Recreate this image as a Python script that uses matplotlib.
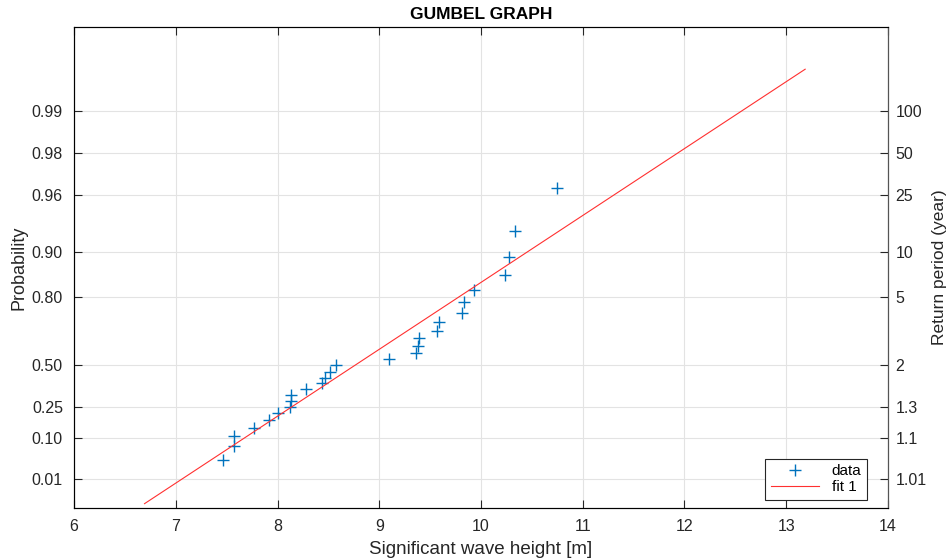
import numpy as np
import matplotlib.pyplot as plt

plt.rcParams['font.family'] = ['Liberation Sans', 'DejaVu Sans']

# annual maxima of significant wave height [m] with their plotting probabilities
wave_height = [7.46, 7.57, 7.57, 7.77, 7.92, 8.00, 8.12, 8.13, 8.13, 8.28,
               8.44, 8.47, 8.52, 8.57, 9.10, 9.36, 9.38, 9.39, 9.57, 9.59,
               9.81, 9.83, 9.93, 10.24, 10.28, 10.33, 10.75]
probability = [0.0357, 0.0714, 0.1071, 0.1429, 0.1786, 0.2143, 0.2500, 0.2857,
               0.3214, 0.3571, 0.3929, 0.4286, 0.4643, 0.5000, 0.5357, 0.5714,
               0.6071, 0.6429, 0.6786, 0.7143, 0.7500, 0.7857, 0.8214, 0.8571,
               0.8929, 0.9286, 0.9643]

# fitted Gumbel line (location, scale) and the height range it is drawn over
fit_loc = 8.429
fit_scale = 0.898
fit_range = [6.693, 13.186]

prob_ticks = [0.01, 0.10, 0.25, 0.50, 0.80, 0.90, 0.96, 0.98, 0.99]
prob_labels = ['0.01', '0.10', '0.25', '0.50', '0.80', '0.90', '0.96', '0.98', '0.99']
period_labels = ['1.01', '1.1', '1.3', '2', '5', '10', '25', '50', '100']


def to_reduced(p):
    with np.errstate(divide='ignore', invalid='ignore'):
        return -np.log(-np.log(p))


def from_reduced(y):
    return np.exp(-np.exp(-y))


fit_x = np.array(fit_range)
fit_p = from_reduced((fit_x - fit_loc) / fit_scale)

fig = plt.figure(figsize=(9.49, 5.59), dpi=100)
ax = fig.add_axes([0.078, 0.0918, 0.8577, 0.8599])

ax.set_yscale('function', functions=(to_reduced, from_reduced))
ax.grid(True, color='#e3e3e3', linewidth=0.8)
ax.set_axisbelow(True)

ax.plot(wave_height, probability, '+', color='#0072BD', markersize=8,
        markeredgewidth=1.0, label='data')
ax.plot(fit_x, fit_p, '-', color='#ff3030', linewidth=0.8, label='fit 1')

ylim = (from_reduced(-2.0), from_reduced(6.0))
ax.set_xlim(6, 14)
ax.set_ylim(*ylim)
ax.set_xticks(range(6, 15))
ax.set_yticks(prob_ticks)
ax.set_yticklabels(prob_labels)
ax.yaxis.set_minor_locator(plt.NullLocator())

ax.tick_params(axis='both', direction='in', length=5.5, width=0.8,
               labelsize=11.5, colors='#262626', labelcolor='#262626')
ax.tick_params(axis='x', top=True, pad=8)
ax.tick_params(axis='y', right=False, pad=8)
for s in ax.spines.values():
    s.set_color('#262626')
    s.set_linewidth(0.8)

ax.set_xlabel('Significant wave height [m]', fontsize=13.5, color='#262626',
              labelpad=5)
ax.set_ylabel('Probability', fontsize=13, color='#262626', labelpad=3)
ax.set_title('GUMBEL GRAPH', fontsize=12.5, fontweight='bold', pad=6)

# return period axis on the right
ax2 = ax.twinx()
ax2.set_yscale('function', functions=(to_reduced, from_reduced))
ax2.set_ylim(*ylim)
ax2.set_yticks(prob_ticks)
ax2.set_yticklabels(period_labels)
ax2.yaxis.set_minor_locator(plt.NullLocator())
ax2.tick_params(axis='y', direction='in', length=5.5, width=0.8, labelsize=11.5,
                pad=5.5, colors='#262626', labelcolor='#262626')
ax2.spines['right'].set_color('#555555')
ax2.spines['right'].set_linewidth(0.8)
ax2.set_ylabel('Return period (year)', fontsize=12.5, color='#262626', labelpad=4)

leg = ax.legend(loc='lower right', bbox_to_anchor=(0.974, 0.0167), borderaxespad=0,
                fontsize=11, fancybox=False, framealpha=1, edgecolor='#262626',
                handlelength=3.2, handletextpad=0.8, borderpad=0.35,
                labelspacing=0.15, markerfirst=True)
leg.get_frame().set_linewidth(0.8)
leg.set_zorder(5)

fig.savefig('out.png', dpi=100)
